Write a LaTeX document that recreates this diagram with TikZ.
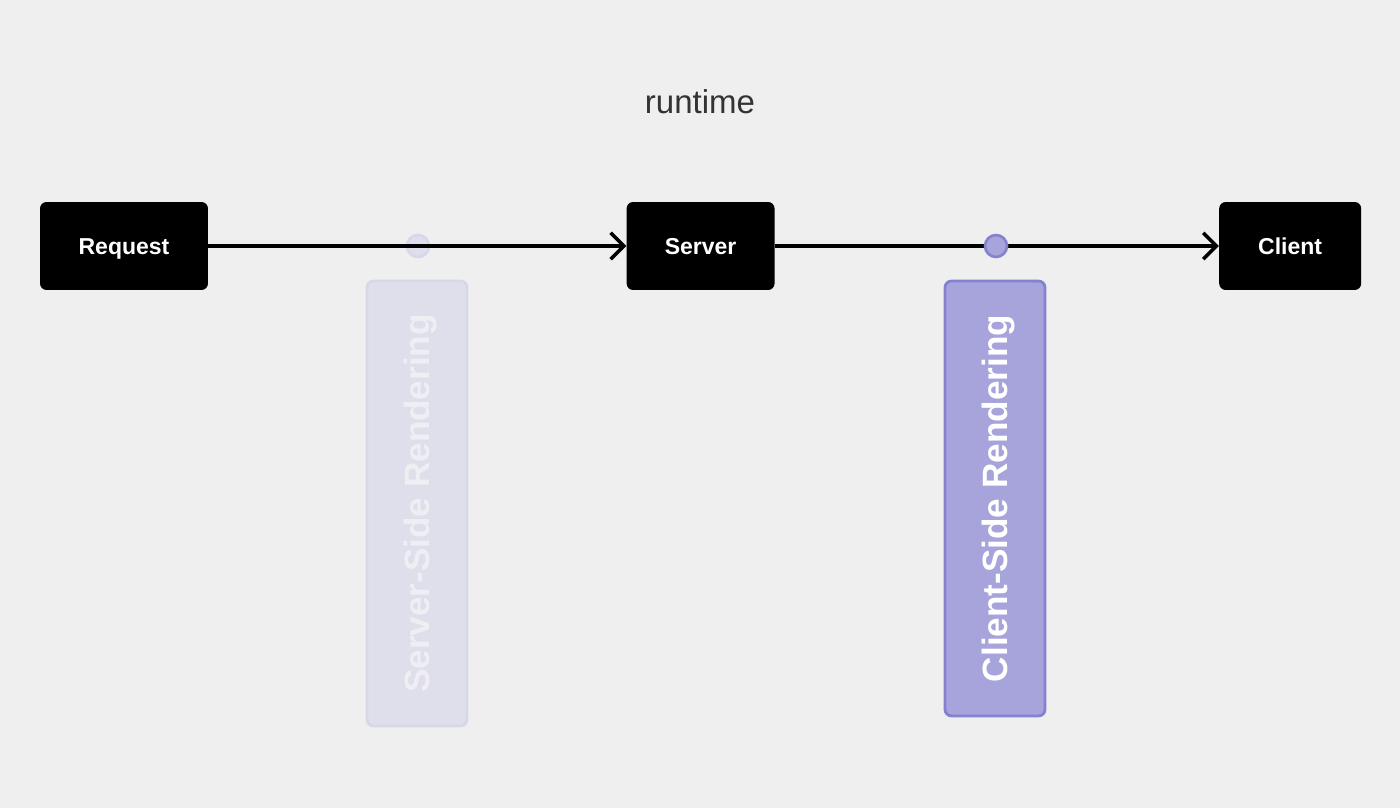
\documentclass[tikz,border=0pt]{standalone}
\usepackage{fontspec}
\setmainfont{Liberation Sans}
\usetikzlibrary{positioning,arrows.meta}
\usepackage{xcolor}

\definecolor{bgGray}{HTML}{EFEFEF}
\definecolor{titleGray}{HTML}{333333}
\definecolor{csrFill}{HTML}{A7A4DC}
\definecolor{csrLine}{HTML}{8481CF}
\definecolor{ssrFill}{HTML}{DFDFEC}
\definecolor{ssrLine}{HTML}{D7D7EA}
\definecolor{ssrText}{HTML}{EEEEF3}

\begin{document}
\begin{tikzpicture}[x=0.02cm, y=-0.02cm]

    \tikzstyle{stage}=[fill=black, text=white, rounded corners=0.13cm, inner sep=0pt, minimum height=1.76cm, text height=9.4pt, text depth=0pt, font=\bfseries\fontsize{13.1}{15}\selectfont];
    \tikzstyle{ssrdot}=[circle, fill=ssrFill, draw=ssrLine, line width=1.5pt, inner sep=0pt, minimum size=0.44cm];
    \tikzstyle{csrdot}=[circle, fill=csrFill, draw=csrLine, line width=1.5pt, inner sep=0pt, minimum size=0.44cm];
    \tikzstyle{phase}=[rotate=90, rounded corners=0.13cm, line width=1.6pt, inner sep=0pt, minimum height=2cm, text height=14.4pt, text depth=0pt, font=\bfseries\fontsize{20}{22}\selectfont];

    \fill[bgGray] (0,0) rectangle (1400,808);

    \begin{scope}[>={Straight Barb[length=7.5pt, width=15pt]}]
      \node (title) at (700,102) [text=titleGray, font=\fontsize{18.8}{22}\selectfont]{runtime};

      \node (request) at (124,246) [stage, minimum width=3.36cm]{Request};
      \node (server) [right=8.36cm of request, stage, minimum width=2.96cm]{Server};
      \node (client) [right=8.88cm of server, stage, minimum width=2.84cm]{Client};

      \node (ssrDot) at (418,246) [ssrdot]{};
      \node (ssrBox) at (417,503.5) [phase, fill=ssrFill, draw=ssrLine, text=ssrText, minimum width=8.9cm]{Server-Side Rendering};
      \node (csrBox) at (995,498.5) [phase, fill=csrFill, draw=csrLine, text=white, minimum width=8.7cm]{Client-Side Rendering};

      \draw [->, line width=2pt] (request) -- (server);
      \draw [->, line width=2pt] (server) -- (client);

      \node (csrDot) at (996,246) [csrdot]{};
    \end{scope}
\end{tikzpicture}
\end{document}
